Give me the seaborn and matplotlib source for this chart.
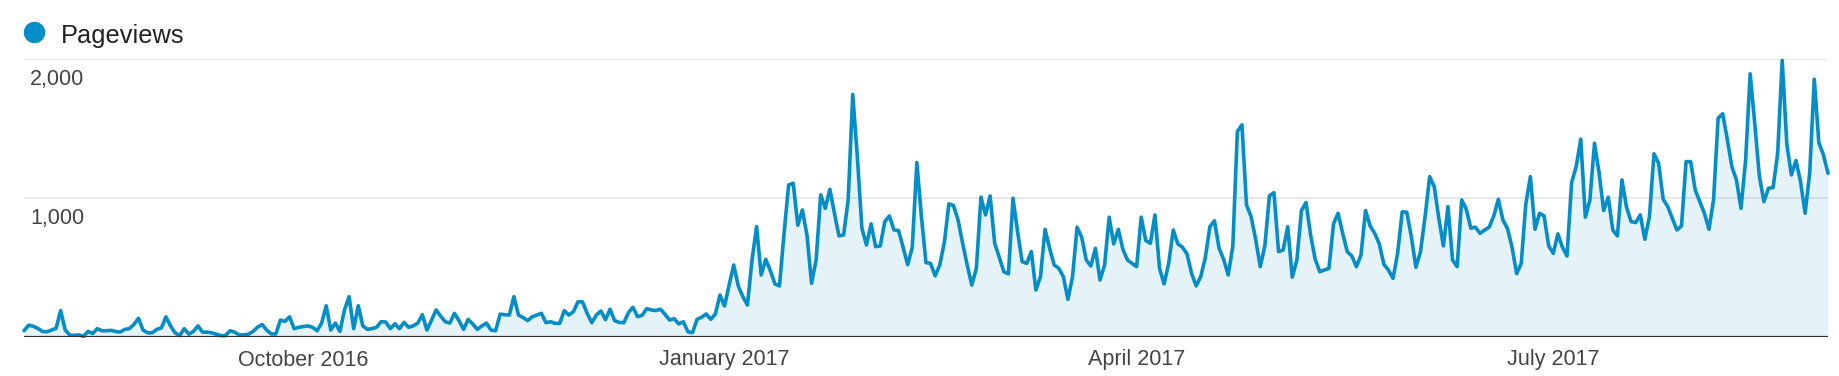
import numpy as np
import pandas as pd
import matplotlib
matplotlib.use("Agg")
import matplotlib.pyplot as plt
from matplotlib.lines import Line2D
import seaborn as sns

# ---------------- data (daily pageviews) ----------------
start_date = "2016-08-01"
series_name = "Pageviews"

pageviews_2016_aug_sep = [
    45, 85, 78, 62, 40, 38, 50, 62, 190, 50,
    14, 12, 15, 5, 40, 25, 60, 45, 45, 48,
    40, 35, 55, 60, 90, 135, 50, 30, 30, 55,
    65, 145, 80, 30, 10, 60, 20, 40, 80, 35,
    35, 30, 20, 10, 10, 45, 35, 15, 15, 20,
    40, 70, 90, 50, 22, 22, 122, 112, 145, 60,
    70,
]
pageviews_2016_oct_dec = [
    75, 80, 70, 45, 100, 225, 50, 100, 40,
    195, 290, 60, 225, 80, 55, 60, 70, 110, 108,
    60, 95, 60, 105, 70, 80, 100, 160, 50, 120,
    195, 150, 110, 100, 170, 118, 55, 127, 94, 55,
    80, 100, 50, 45, 165, 160, 158, 290, 158, 140,
    118, 146, 158, 170, 103, 110, 98, 98, 190, 158,
    182, 254, 252, 170, 103, 158, 187, 125, 200, 118,
    105, 103, 175, 214, 146, 156, 204, 195, 190, 200,
    163, 122, 132, 94, 110, 38, 31, 127, 142, 166,
    127, 166, 302,
]
pageviews_2017_jan_mar = [
    223, 374, 518, 367, 290, 230, 554,
    794, 446, 559, 478, 382, 367, 746, 1094, 1106, 804,
    914, 734, 386, 554, 1022, 926, 1063, 890, 727, 734,
    986, 1745, 1298, 782, 662, 814, 650, 655, 830, 871,
    770, 766, 645, 520, 645, 1255, 866, 535, 530, 440,
    518, 679, 958, 946, 842, 674, 518, 374, 494, 1006,
    878, 1015, 674, 574, 470, 454, 998, 758, 542, 530,
    614, 338, 434, 775, 638, 518, 494, 434, 271, 434,
    790, 718, 554, 511, 638, 410, 518, 862, 670, 775,
    631, 554, 530,
]
pageviews_2017_apr_jun = [
    506, 862, 694, 674, 878, 494, 382,
    530, 770, 670, 646, 598, 458, 367, 434, 570, 794,
    836, 640, 559, 446, 650, 1478, 1526, 950, 866, 703,
    506, 655, 1015, 1039, 614, 626, 794, 430, 554, 910,
    967, 734, 559, 470, 482, 494, 814, 890, 746, 614,
    583, 506, 590, 910, 799, 746, 670, 523, 482, 422,
    602, 900, 898, 722, 502, 614, 866, 1154, 1082, 854,
    655, 938, 554, 506, 986, 919, 782, 790, 746, 770,
    790, 871, 991, 842, 780, 645, 456, 530, 958, 1154,
    775, 890, 871, 655,
]
pageviews_2017_jul_aug = [
    602, 742, 646, 583, 1111, 1226,
    1423, 862, 986, 1394, 1183, 910, 1006, 770, 727, 1130,
    934, 830, 823, 878, 703, 866, 1318, 1250, 991, 938,
    854, 770, 799, 1262, 1262, 1058, 974, 890, 775, 986,
    1574, 1606, 1423, 1226, 1130, 926, 1270, 1894, 1538, 1159,
    974, 1070, 1075, 1318, 1990, 1390, 1166, 1270, 1118, 890,
    1178, 1855, 1399, 1310, 1178,
]

tick_dates = ["2016-10-01", "2017-01-01", "2017-04-01", "2017-07-01"]
tick_labels = ["October 2016", "January 2017", "April 2017", "July 2017"]
ytick_values = [1000, 2000]
ytick_labels = ["1,000", "2,000"]

# ---------------- build frame ----------------
values = (pageviews_2016_aug_sep + pageviews_2016_oct_dec + pageviews_2017_jan_mar
          + pageviews_2017_apr_jun + pageviews_2017_jul_aug)
dates = pd.date_range(start_date, periods=len(values), freq="D")
df = pd.DataFrame({"date": dates, "pageviews": values})

BLUE = "#058dc7"

sns.set_theme(style="white")
plt.rcParams["font.family"] = ["Liberation Sans", "DejaVu Sans"]

fig = plt.figure(figsize=(18.4, 3.76), dpi=100)
ax = fig.add_axes([24 / 1840, 39 / 376, 1804 / 1840, 278 / 376])
ax.set_facecolor("white")

for v in ytick_values:
    ax.axhline(v, color="#e6e6e6", lw=1.3, zorder=1)

ax.fill_between(df["date"], 0, df["pageviews"], color=BLUE, alpha=0.1, lw=0, zorder=2)
sns.lineplot(data=df, x="date", y="pageviews", ax=ax, color=BLUE, lw=2.6,
             zorder=3, clip_on=False)
ax.axhline(0, color="#333333", lw=1.6, zorder=4)

ax.set_ylim(0, 2000)
ax.set_xlim(dates[0], dates[-1])
ax.set_yticks([])
ax.set_xticks(pd.to_datetime(tick_dates))
ax.set_xticklabels(tick_labels)
ax.tick_params(axis="x", length=0, pad=9, labelsize=15.5, labelcolor="#444444")
for s in ax.spines.values():
    s.set_visible(False)
ax.set_xlabel("")
ax.set_ylabel("")

for v, lab in zip(ytick_values, ytick_labels):
    ax.annotate(lab, xy=(0, v), xycoords=ax.get_yaxis_transform(),
                xytext=(4.3, -7.2), textcoords="offset points",
                ha="left", va="top", fontsize=15.5, color="#444444")

# legend
fig.add_artist(Line2D([34 / 1840], [1 - 32 / 376], marker="o", markersize=14.4,
                      color=BLUE, linestyle="none", transform=fig.transFigure))
fig.text(61 / 1840, 1 - 42.7 / 376, series_name, fontsize=18.3, color="#222222",
         va="baseline", ha="left")

fig.savefig("out.png", dpi=100)
